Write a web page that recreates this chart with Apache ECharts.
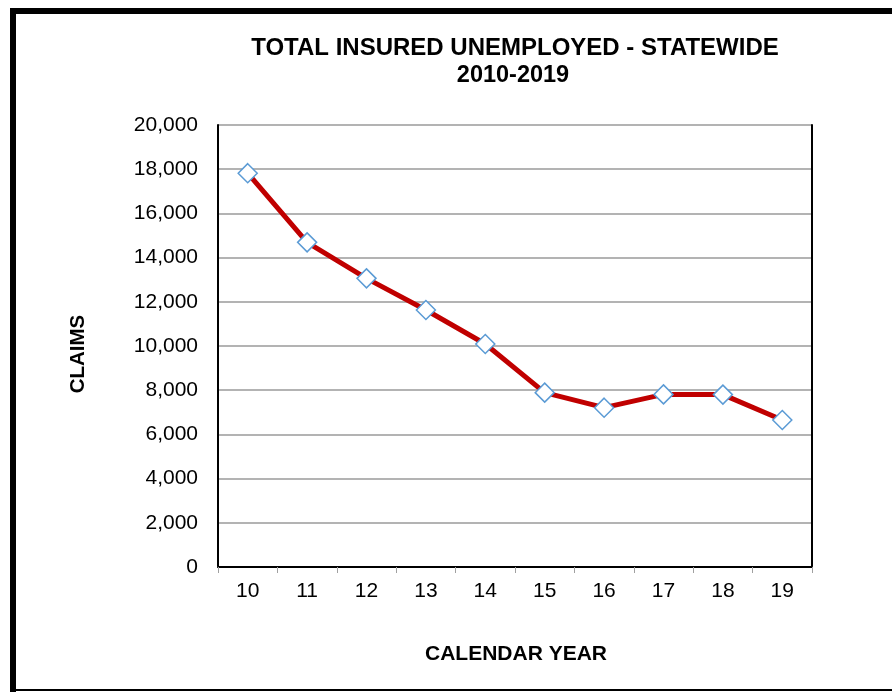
<!DOCTYPE html>
<html>
<head>
<meta charset="utf-8">
<style>
html,body{margin:0;padding:0;background:#fff;}
#chart{width:892px;height:692px;}
</style>
<script src="https://cdn.jsdelivr.net/npm/echarts@6/dist/echarts.min.js"></script>
</head>
<body>
<div id="chart"></div>
<script>
const categories = ['10','11','12','13','14','15','16','17','18','19'];
const claims = [17820, 14690, 13060, 11630, 10090, 7890, 7210, 7810, 7800, 6650];
const titleLines = ['TOTAL INSURED UNEMPLOYED - STATEWIDE', '2010-2019'];
const yName = 'CLAIMS';
const xName = 'CALENDAR YEAR';

const chart = echarts.init(document.getElementById('chart'), null, {renderer:'canvas'});
const font = 'Liberation Sans, Arial, sans-serif';
chart.setOption({
  animation:false,
  backgroundColor:'#fff',
  grid:{left:218, top:125, right:80, bottom:125, containLabel:false},
  xAxis:[{
    type:'category', data:categories, boundaryGap:true,
    axisLine:{show:true, lineStyle:{color:'#8c8c8c', width:2}},
    axisTick:{show:true, length:6, lineStyle:{color:'#a0a0a0', width:1}},
    axisLabel:{color:'#000', fontSize:21, fontFamily:font, margin:14},
    splitLine:{show:false}
  },{
    type:'category', data:categories, position:'top', boundaryGap:true,
    axisLine:{show:true, lineStyle:{color:'#000', width:2}},
    axisTick:{show:false}, axisLabel:{show:false}, splitLine:{show:false}
  }],
  yAxis:[{
    type:'value', min:0, max:20000, interval:2000,
    axisLine:{show:true, lineStyle:{color:'#000', width:2}},
    axisTick:{show:false},
    axisLabel:{color:'#000', fontSize:21, fontFamily:font, margin:20,
      formatter:v=>v.toLocaleString('en-US')},
    splitLine:{show:true, lineStyle:{color:'#9a9a9a', width:1.5}}
  },{
    type:'value', min:0, max:20000, interval:2000, position:'right',
    axisLine:{show:true, lineStyle:{color:'#000', width:2}},
    axisTick:{show:false}, axisLabel:{show:false}, splitLine:{show:false}
  }],
  series:[{
    type:'line', data:claims, xAxisIndex:0, yAxisIndex:0,
    lineStyle:{color:'#c00000', width:5},
    symbol:'diamond', symbolSize:[19,19], showAllSymbol:true,
    itemStyle:{color:'#fff', borderColor:'#5b9bd5', borderWidth:1.5},
    z:3
  }],
  graphic:[
    {type:'rect', shape:{x:10,y:8,width:6,height:684}, style:{fill:'#000'}},
    {type:'rect', shape:{x:10,y:8,width:882,height:6}, style:{fill:'#000'}},
    {type:'rect', shape:{x:10,y:689,width:882,height:2}, style:{fill:'#000'}},
    {type:'text', x:515, y:48, style:{text:titleLines[0], font:'bold 24px '+font, fill:'#000', textAlign:'center', textVerticalAlign:'middle'}},
    {type:'text', x:513, y:76, style:{text:titleLines[1], font:'bold 23.5px '+font, fill:'#000', textAlign:'center', textVerticalAlign:'middle'}},
    {type:'text', x:516, y:654, style:{text:xName, font:'bold 21px '+font, fill:'#000', textAlign:'center', textVerticalAlign:'middle'}},
    {type:'text', x:78, y:354, rotation:Math.PI/2, style:{text:yName, font:'bold 20.5px '+font, fill:'#000', textAlign:'center', textVerticalAlign:'middle'}}
  ]
});
</script>
</body>
</html>
